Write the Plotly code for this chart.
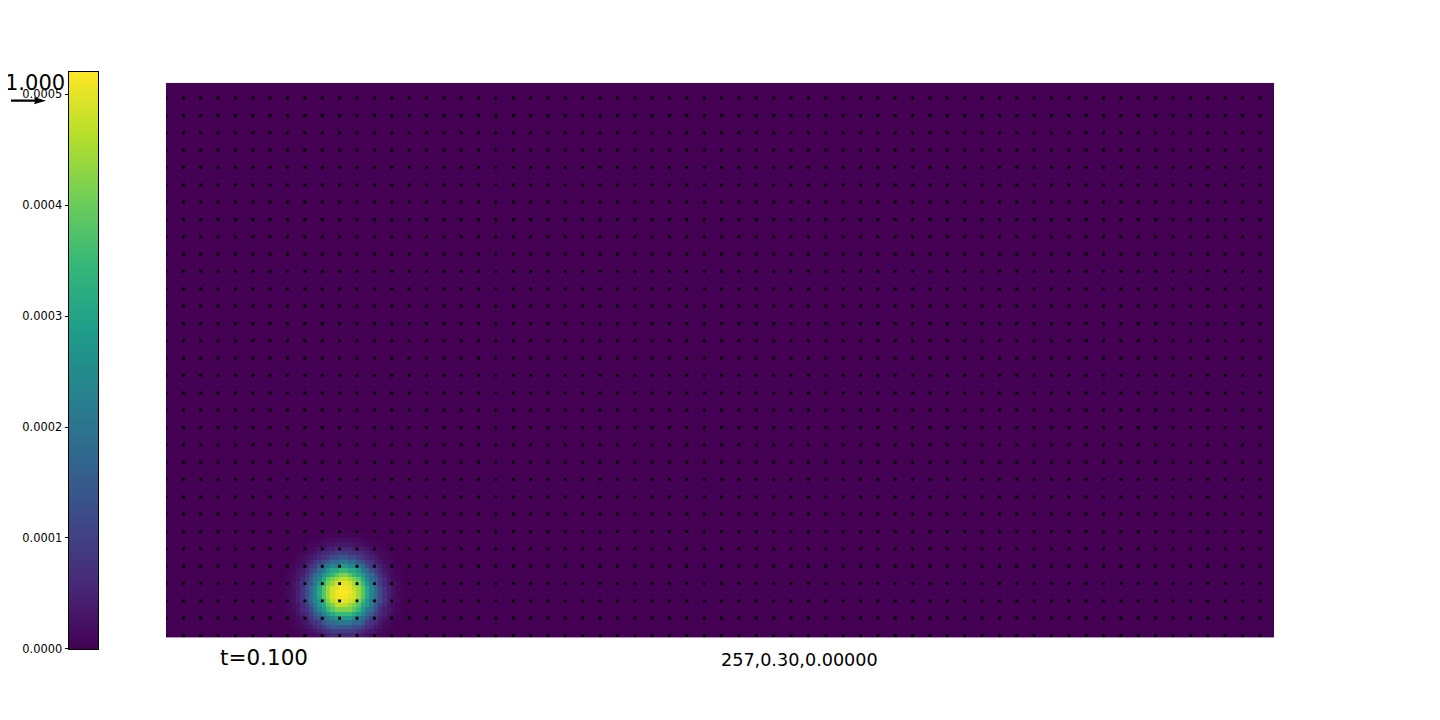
import numpy as np
import plotly.graph_objects as go

# ---------------- data ----------------
# scalar field: 256 x 128 cells over [0,2] x [0,1]
nx_cells, ny_cells = 256, 128
x_len, y_len = 2.0, 1.0
peak_value = 0.00052
blob_center = (0.32, 0.081)
# radial profile (fraction of peak) at 0.5-cell steps
blob_profile = [1.000, 0.997, 0.990, 0.977, 0.960, 0.935, 0.900, 0.855, 0.800,
                0.737, 0.670, 0.600, 0.530, 0.465, 0.400, 0.340, 0.280, 0.228,
                0.180, 0.142, 0.110, 0.085, 0.065, 0.048, 0.035, 0.025, 0.018,
                0.012, 0.008, 0.004, 0.0]
background_value = 0.0

# quiver grid (all vectors zero -> drawn as dots)
quiver_nx, quiver_ny = 64, 32
quiver_dx, quiver_dy = 0.03134, 0.03125
quiver_x0, quiver_y0 = 0.0, 0.0036

# colorbar ticks
cbar_ticks = [0.0, 0.0001, 0.0002, 0.0003, 0.0004, 0.0005]
cbar_max = 0.00052

# texts
key_label = "1.000"
time_label = "t=0.100"
info_label = "257,0.30,0.00000"

# ---------------- build field ----------------
cell = x_len / nx_cells
xc = (np.arange(nx_cells) + 0.5) * cell
yc = (np.arange(ny_cells) + 0.5) * cell
XX, YY = np.meshgrid(xc, yc)
dist_cells = np.hypot(XX - blob_center[0], YY - blob_center[1]) / cell
idx = np.minimum(np.round(dist_cells * 2).astype(int), len(blob_profile) - 1)
prof = np.array(blob_profile)
Z = background_value + peak_value * prof[idx]

qx = quiver_x0 + np.arange(quiver_nx) * quiver_dx
qy = quiver_y0 + np.arange(quiver_ny) * quiver_dy
QX, QY = np.meshgrid(qx, qy)

W, H = 1440, 720
OFF = 8        # page body margin
H_EFF = 712    # effective rendered height


def px(x):
    return (x - OFF) / W


def py(y):
    return 1 - (y - OFF) / H_EFF


fig = go.Figure()

fig.add_trace(go.Heatmap(
    x=xc, y=yc, z=Z, colorscale="Viridis", zmin=0, zmax=cbar_max,
    showscale=False, zsmooth=False, hoverinfo="skip",
    xaxis="x", yaxis="y"))

fig.add_trace(go.Scatter(
    x=QX.ravel(), y=QY.ravel(), mode="markers",
    marker=dict(color="black", size=2.8, symbol="square"),
    hoverinfo="skip", showlegend=False, xaxis="x", yaxis="y"))

# colorbar as its own axis (labels on the left)
levels = np.linspace(0, cbar_max, 300)
fig.add_trace(go.Heatmap(
    x=[0, 1], y=levels, z=[[v, v] for v in levels], colorscale="Viridis",
    zmin=0, zmax=cbar_max, showscale=False, zsmooth=False,
    hoverinfo="skip", xaxis="x2", yaxis="y2"))

fig.update_layout(
    width=W, height=H,
    margin=dict(l=0, r=0, t=0, b=0),
    paper_bgcolor="white", plot_bgcolor="white",
    showlegend=False,
    font=dict(family="DejaVu Sans", color="black"),
    xaxis=dict(domain=[px(166), px(1274)], range=[0, x_len],
               visible=False, fixedrange=True),
    yaxis=dict(domain=[py(636.7), py(82.7)], range=[0, y_len],
               visible=False, fixedrange=True),
    xaxis2=dict(domain=[px(69), px(98)], range=[-0.5, 1.5], anchor="y2",
                showticklabels=False, ticks="", showgrid=False, zeroline=False,
                showline=True, mirror=True, linecolor="black", linewidth=1),
    yaxis2=dict(domain=[py(648), py(72)], range=[0, cbar_max], anchor="x2",
                side="left", tickvals=cbar_ticks, tickformat=".4f",
                ticks="outside", ticklen=3.5, tickwidth=0.8, tickcolor="black",
                tickfont=dict(size=11.4, family="DejaVu Sans", color="black"),
                showgrid=False, zeroline=False,
                showline=True, mirror=True, linecolor="black", linewidth=1),
)

# quiver key arrow
shaft_y = 100.5
fig.add_shape(type="path", xref="paper", yref="paper",
              path=(f"M {px(11)} {py(shaft_y-1.2)} L {px(35)} {py(shaft_y-1.2)} "
                    f"L {px(34)} {py(shaft_y-3.6)} L {px(46)} {py(shaft_y)} "
                    f"L {px(34)} {py(shaft_y+3.6)} L {px(35)} {py(shaft_y+1.2)} "
                    f"L {px(11)} {py(shaft_y+1.2)} Z"),
              fillcolor="black", line=dict(width=0), layer="above")

fig.add_annotation(text=key_label, xref="paper", yref="paper",
                   x=px(35), y=py(83), xanchor="center", yanchor="middle",
                   showarrow=False, font=dict(size=21, family="DejaVu Sans", color="black"))
fig.add_annotation(text=time_label, xref="paper", yref="paper",
                   x=px(264), y=py(657), xanchor="center", yanchor="middle",
                   showarrow=False, font=dict(size=21.5, family="DejaVu Sans", color="black"))
fig.add_annotation(text=info_label, xref="paper", yref="paper",
                   x=px(799), y=py(659), xanchor="center", yanchor="middle",
                   showarrow=False, font=dict(size=17.6, family="DejaVu Sans", color="black"))

fig.write_html("out.html")
